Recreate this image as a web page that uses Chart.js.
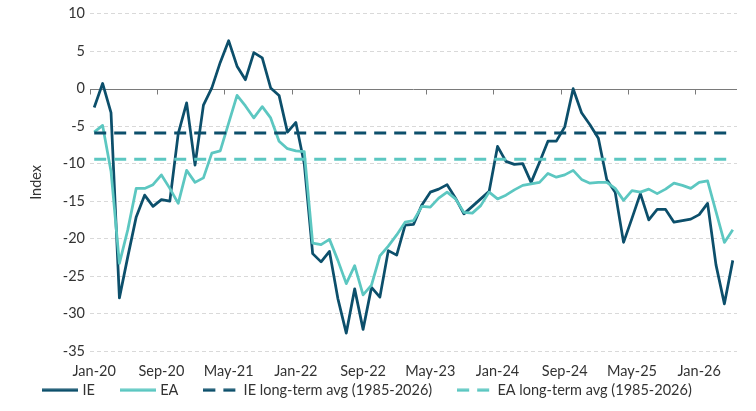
<!DOCTYPE html>
<html>
<head>
<meta charset="utf-8">
<script src="https://cdn.jsdelivr.net/npm/chart.js@4/dist/chart.umd.min.js"></script>
<style>
  html, body { margin: 0; padding: 0; background: #fff; }
  #wrap { width: 756px; height: 411px; }
</style>
</head>
<body>
<div id="wrap"><canvas id="myChart" width="756" height="411"></canvas></div>
<script>
const ctx = document.getElementById('myChart').getContext('2d');

/*** Data ***/
const months = [
    'Jan-20','Feb-20','Mar-20','Apr-20','May-20','Jun-20','Jul-20','Aug-20','Sep-20','Oct-20','Nov-20','Dec-20',
    'Jan-21','Feb-21','Mar-21','Apr-21','May-21','Jun-21','Jul-21','Aug-21','Sep-21','Oct-21','Nov-21','Dec-21',
    'Jan-22','Feb-22','Mar-22','Apr-22','May-22','Jun-22','Jul-22','Aug-22','Sep-22','Oct-22','Nov-22','Dec-22',
    'Jan-23','Feb-23','Mar-23','Apr-23','May-23','Jun-23','Jul-23','Aug-23','Sep-23','Oct-23','Nov-23','Dec-23',
    'Jan-24','Feb-24','Mar-24','Apr-24','May-24','Jun-24','Jul-24','Aug-24','Sep-24','Oct-24','Nov-24','Dec-24',
    'Jan-25','Feb-25','Mar-25','Apr-25','May-25','Jun-25','Jul-25','Aug-25','Sep-25','Oct-25','Nov-25','Dec-25',
    'Jan-26','Feb-26','Mar-26','Apr-26','May-26'
];

const ieValues = [
    -2.5, 0.7, -3.2, -27.9, -22.4, -17.1, -14.2, -15.7, -14.8, -15.0, -6.0, -1.9,
    -10.2, -2.2, 0.1, 3.5, 6.4, 3.0, 1.2, 4.8, 4.1, 0.1, -0.9, -5.8,
    -4.5, -10.0, -22.0, -23.1, -21.7, -28.0, -32.6, -26.7, -32.1, -26.5, -27.8, -21.6,
    -22.2, -18.2, -18.1, -15.5, -13.8, -13.4, -12.8, -14.6, -16.7, -15.7, -14.7, -13.7,
    -7.7, -9.7, -10.1, -10.0, -12.5, -9.8, -7.0, -7.0, -5.1, 0.0, -3.2, -4.8,
    -6.6, -12.1, -13.8, -20.5, -17.3, -14.0, -17.5, -16.1, -16.1, -17.8, -17.6, -17.4,
    -16.8, -15.3, -23.5, -28.7, -22.9
];

const eaValues = [
    -5.8, -4.9, -11.0, -23.3, -18.8, -13.3, -13.3, -12.8, -11.5, -13.3, -15.3, -10.9,
    -12.5, -11.9, -8.6, -8.3, -4.6, -0.9, -2.3, -3.9, -2.4, -3.9, -7.0, -8.0,
    -8.3, -8.4, -20.6, -20.8, -20.1, -22.9, -26.0, -23.6, -27.5, -26.2, -22.3, -21.0,
    -19.5, -17.8, -17.6, -15.7, -15.8, -14.6, -13.8, -14.7, -16.5, -16.6, -15.6, -13.8,
    -14.7, -14.2, -13.5, -12.9, -12.7, -12.5, -11.3, -11.8, -11.5, -10.9, -12.1, -12.6,
    -12.5, -12.5, -13.3, -14.9, -13.6, -13.8, -13.4, -14.0, -13.4, -12.6, -12.9, -13.3,
    -12.5, -12.3, -16.4, -20.5, -18.8
];

const ieLongTermAvg = -5.9;
const eaLongTermAvg = -9.4;

const yTicks = [10, 5, 0, -5, -10, -15, -20, -25, -30, -35];
const labelEvery = 8;
/*************/

const IE_COLOR = '#0c4f6b';
const EA_COLOR = '#5cc7c1';
const TEXT_COLOR = '#333';
const FONT = { family: 'Lato', size: 14.5 };
const LEGEND_TOP = 355;

// small line swatches for the legend (solid / dashed)
function lineSwatch(color, dash) {
    const c = document.createElement('canvas');
    c.width = 36;
    c.height = 4;
    const g = c.getContext('2d');
    g.strokeStyle = color;
    g.lineWidth = 3;
    g.setLineDash(dash);
    g.beginPath();
    g.moveTo(0, 2);
    g.lineTo(36, 2);
    g.stroke();
    return c;
}

// zero line + tick marks (axis crosses at 0)
const zeroAxis = {
    id: 'zeroAxis',
    afterLayout(chart) {
        // pull the legend up so its top padding sits behind the x labels
        const legend = chart.legend;
        const shift = legend.top - LEGEND_TOP;
        legend.top -= shift;
        legend.bottom -= shift;
    },
    beforeDatasetsDraw(chart) {
        const { ctx, chartArea: { left, right }, scales: { x, y } } = chart;
        const y0 = Math.round(y.getPixelForValue(0)) + 0.5;
        const step = x.getPixelForValue(1) - x.getPixelForValue(0);
        ctx.save();
        ctx.strokeStyle = '#7a7a7a';
        ctx.lineWidth = 1;
        ctx.beginPath();
        ctx.moveTo(left, y0);
        ctx.lineTo(right, y0);
        months.forEach(function(m, i) {
            if (i % labelEvery === 0) {
                const xp = Math.round(x.getPixelForValue(i) - step / 2) + 0.5;
                ctx.moveTo(xp, y0);
                ctx.lineTo(xp, y0 + 5);
            }
        });
        ctx.stroke();
        ctx.restore();
    }
};

const data = {
    labels: months,
    datasets: [
        {
            label: 'IE',
            data: ieValues,
            borderColor: IE_COLOR,
            backgroundColor: IE_COLOR,
            borderWidth: 2.75,
            pointStyle: lineSwatch(IE_COLOR, []),
            order: 3
        },
        {
            label: 'EA',
            data: eaValues,
            borderColor: EA_COLOR,
            backgroundColor: EA_COLOR,
            borderWidth: 2.75,
            pointStyle: lineSwatch(EA_COLOR, []),
            order: 2
        },
        {
            label: 'IE long-term avg (1985-2026)',
            data: months.map(() => ieLongTermAvg),
            borderColor: IE_COLOR,
            backgroundColor: IE_COLOR,
            borderWidth: 3,
            borderDash: [12, 8],
            pointStyle: lineSwatch(IE_COLOR, [12, 8]),
            order: 1
        },
        {
            label: 'EA long-term avg (1985-2026)',
            data: months.map(() => eaLongTermAvg),
            borderColor: EA_COLOR,
            backgroundColor: EA_COLOR,
            borderWidth: 3,
            borderDash: [12, 8],
            pointStyle: lineSwatch(EA_COLOR, [12, 8]),
            order: 0
        }
    ]
};

const config = {
    type: 'line',
    data,
    options: {
        responsive: false,
        animation: false,
        layout: {
            padding: { left: 0, right: 19, top: 8, bottom: -26 }
        },
        elements: {
            point: { radius: 0, hoverRadius: 0 },
            line: { tension: 0, borderJoinStyle: 'round' }
        },
        plugins: {
            tooltip: { enabled: false },
            legend: {
                position: 'bottom',
                reverse: true,
                labels: {
                    usePointStyle: true,
                    pointStyleWidth: 30,
                    padding: 28,
                    color: TEXT_COLOR,
                    font: FONT
                }
            }
        },
        scales: {
            x: {
                type: 'category',
                offset: true,
                grid: { display: false, offset: true },
                border: { display: false },
                ticks: {
                    autoSkip: false,
                    maxRotation: 0,
                    padding: 4,
                    color: TEXT_COLOR,
                    font: FONT,
                    callback: function(value, index) {
                        return index % labelEvery === 0 ? months[index] : null;
                    }
                }
            },
            y: {
                min: -35,
                max: 10,
                afterFit: function(scale) { scale.width = 90; },
                afterBuildTicks: function(scale) {
                    scale.ticks = yTicks.map(v => ({ value: v }));
                },
                grid: {
                    drawTicks: false,
                    color: function(c) { return c.tick && c.tick.value === 0 ? 'rgba(0,0,0,0)' : '#d9d9d9'; }
                },
                border: { display: false, dash: [4, 3] },
                ticks: {
                    padding: 5,
                    color: TEXT_COLOR,
                    font: FONT
                },
                title: {
                    display: true,
                    text: 'Index',
                    color: TEXT_COLOR,
                    font: FONT,
                    padding: { top: 28, bottom: 0 }
                }
            }
        }
    },
    plugins: [zeroAxis]
};

const myChart = new Chart(ctx, config);
</script>
</body>
</html>
